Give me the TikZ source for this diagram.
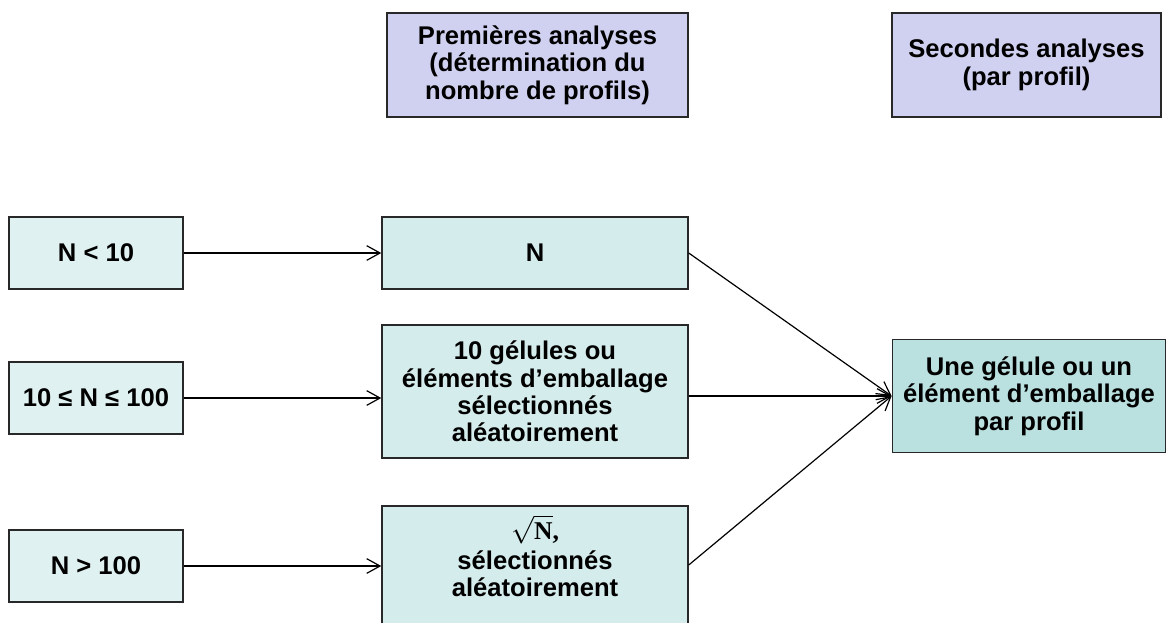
\documentclass[tikz,border=0pt]{standalone}
\usepackage{fontspec}
\setmainfont{Liberation Sans}
\newfontfamily\rootfont{Liberation Serif}
\usetikzlibrary{arrows.meta}
\definecolor{headfill}{RGB}{208,208,240}
\definecolor{condfill}{RGB}{223,241,241}
\definecolor{samplefill}{RGB}{213,236,236}
\definecolor{resultfill}{RGB}{186,224,224}
\definecolor{edge}{RGB}{40,40,40}
\begin{document}
\begin{tikzpicture}[x=0.75pt,y=-0.75pt,
  every node/.style={font=\fontsize{19.2}{20.6}\selectfont\bfseries, align=center, inner sep=0pt},
  box/.style={draw=edge, line width=1.1pt},
  headbox/.style={box, fill=headfill, minimum height=78pt},
  condbox/.style={box, fill=condfill, minimum width=130.5pt, minimum height=54pt},
  samplebox/.style={box, fill=samplefill, minimum width=229.5pt},
  resultbox/.style={box, fill=resultfill, minimum width=205pt, minimum height=84.75pt},
  link/.style={draw=black, line width=0.9pt, -{Straight Barb[length=10pt,width=11pt,line width=0.9pt]}}
]
\useasboundingbox (0,0) rectangle (1167,622);

% column headings
\node[headbox, minimum width=225.75pt] (first) at (537.5,65)
  {Premières analyses\\(détermination du\\nombre de profils)};
\node[headbox, minimum width=201.75pt] (second) at (1026.5,65)
  {Secondes analyses\\(par profil)};

% batch size conditions
\node[condbox] (c1) at (96,253) {N < 10};
\node[condbox] (c2) at (96,398) {10 ≤ N ≤ 100};
\node[condbox] (c3) at (96,566) {N > 100};

% first analyses
\node[samplebox, minimum height=54pt] (s1) at (535,253) {N};
\node[samplebox, minimum height=99.75pt] (s2) at (535,391.5)
  {10 gélules ou\\éléments d’emballage\\sélectionnés\\aléatoirement};
\node[samplebox, minimum height=88.5pt] (s3) at (535,565) {};
\node (s3text) at (535,556)
  {{\rootfont\bfseries$\sqrt{\hbox{N}}$,}\\[2pt]sélectionnés\\aléatoirement};

% second analyses
\node[resultbox] (r) at (1029,396)
  {Une gélule ou un\\élément d’emballage\\par profil};

% connectors
\draw[link] (c1.east) -- (s1.west);
\draw[link] (c2.east) -- (c2.east -| s2.west);
\draw[link] (c3.east) -- (c3.east -| s3.west);
\draw[link] (s1.east) -- (r.west);
\draw[link] (s2.east |- r.west) -- (r.west);
\draw[link] (s3.east) -- (r.west);
\end{tikzpicture}
\end{document}
